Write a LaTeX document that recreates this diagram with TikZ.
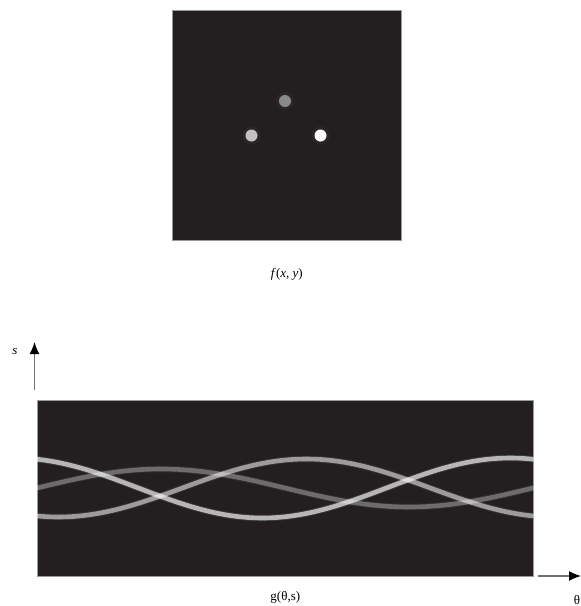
\documentclass[tikz,border=0pt]{standalone}
\usepackage{fontspec}
\setmainfont{Liberation Serif}
\usetikzlibrary{positioning,arrows.meta}
\definecolor{ink}{HTML}{231F20}
\definecolor{axisgray}{HTML}{707070}
\definecolor{frame}{HTML}{9A9A9A}
\definecolor{dimspot}{HTML}{8A8A8A}
\definecolor{midspot}{HTML}{C2C2C2}
\tikzset{
  panel/.style={rectangle, draw=frame, fill=ink, line width=0.6pt, inner sep=0pt, anchor=north west},
  spot/.style={circle, inner sep=0pt, minimum size=12pt},
  halo/.style={circle, inner sep=0pt, minimum size=18pt, fill=white, opacity=0.035},
  trace/.style={white, line width=4.6pt, line cap=round},
  glow/.style={white, line width=6.5pt, line cap=round},
  axisarrow/.style={-{Latex[length=12pt,width=10pt,black]}, line width=1.4pt, draw=axisgray},
  caption/.style={font=\fontsize{13}{15}\selectfont}
}
\begin{document}
\begin{tikzpicture}[x=1pt, y=-1pt]
\useasboundingbox (0,0) rectangle (581,606);

% object plane
\node[panel, minimum width=229pt, minimum height=230pt] (object) at (172,10) {};
\node[halo] at (285,101) {};
\node[halo] at (251.5,135.5) {};
\node[halo] at (320.5,135.5) {};
\node[spot, fill=dimspot] (ptop) at (285,101) {};
\node[spot, fill=midspot] (pleft) at (251.5,135.5) {};
\node[spot, fill=white] (pright) at (320.5,135.5) {};
\node[caption, below=24pt of object] (fcap) {\textit{f}(\textit{x}, \textit{y})};

% sinogram
\node[panel, minimum width=496pt, minimum height=176pt] (sino) at (37,400) {};
\begin{scope}
  \clip (sino.north west) rectangle (sino.south east);
  \draw[glow, opacity=0.06] plot[domain=0:360, samples=120] ({37+\x*1.37778}, {488-19*cos(\x-90)});
  \draw[glow, opacity=0.08] plot[domain=0:360, samples=120] ({37+\x*1.37778}, {488-29*cos(\x-195.5)});
  \draw[glow, opacity=0.10] plot[domain=0:360, samples=120] ({37+\x*1.37778}, {488-30*cos(\x+16.4)});
  \draw[trace, opacity=0.30] plot[domain=0:360, samples=120] ({37+\x*1.37778}, {488-19*cos(\x-90)});
  \draw[trace, opacity=0.52] plot[domain=0:360, samples=120] ({37+\x*1.37778}, {488-29*cos(\x-195.5)});
  \draw[trace, opacity=0.64] plot[domain=0:360, samples=120] ({37+\x*1.37778}, {488-30*cos(\x+16.4)});
\end{scope}
\node[caption, below=11pt of sino] (gcap) {g(θ,s)};

% axes
\coordinate (sfoot) at (34.5,390);
\coordinate (shead) at (34.5,342);
\draw[axisarrow] (sfoot) -- (shead);
\node[caption] (slabel) at (15,351) {\textit{s}};
\coordinate (tfoot) at (538,576);
\coordinate (thead) at (581,576);
\draw[axisarrow] (tfoot) -- (thead);
\node[caption] (tlabel) at (577,600) {θ};
\end{tikzpicture}
\end{document}
